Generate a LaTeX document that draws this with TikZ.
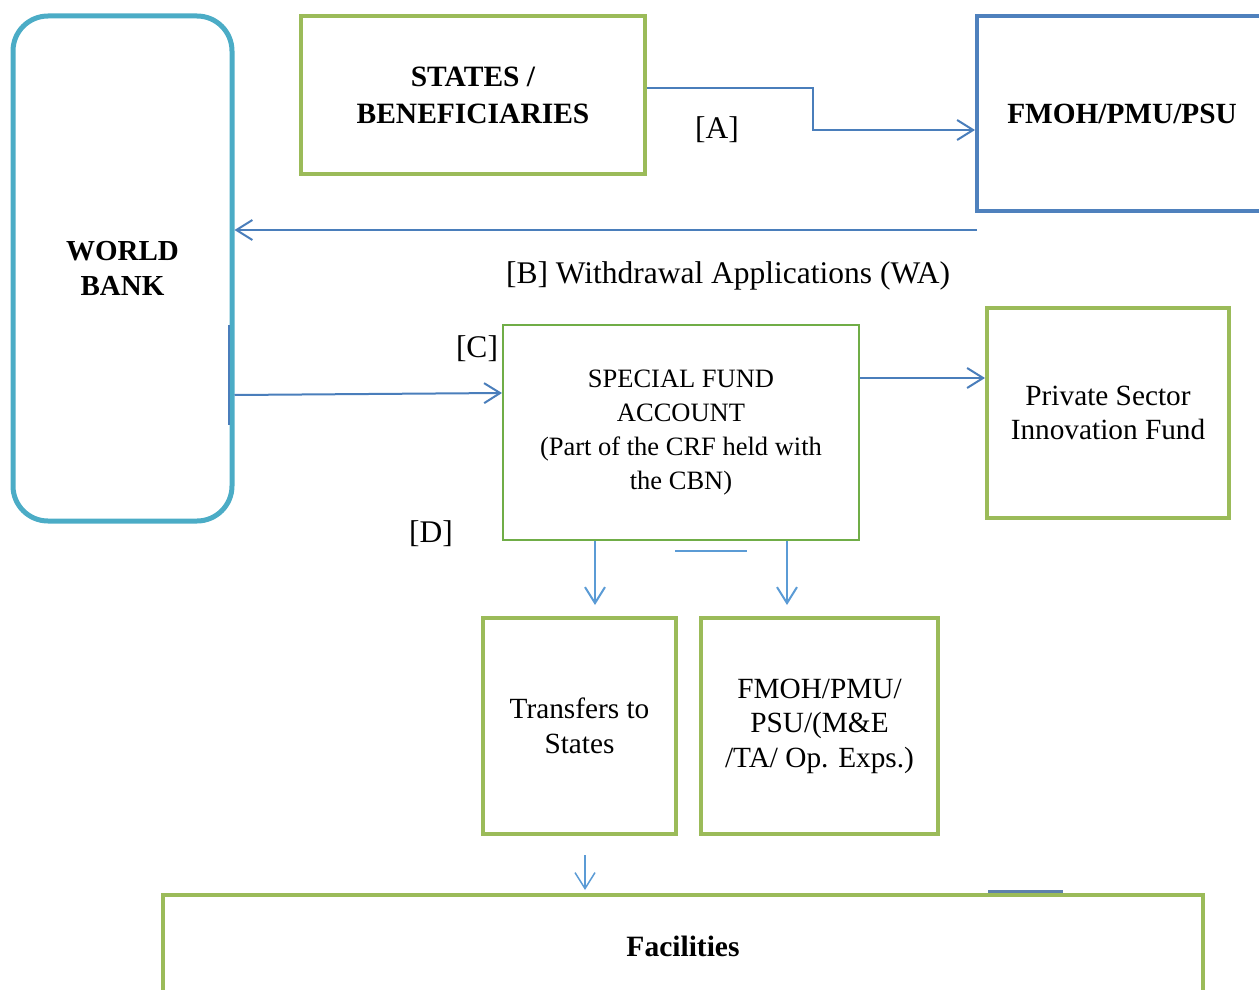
\documentclass[tikz,border=0pt]{standalone}
\usepackage{fontspec}
\setmainfont{Liberation Serif}
\usepackage{tikz}
\usetikzlibrary{shapes,arrows,arrows.meta,positioning,calc}
\definecolor{wbblue}{HTML}{4BACC6}
\definecolor{boxgreen}{HTML}{9BBB59}
\definecolor{sfagreen}{HTML}{70AD47}
\definecolor{fmohblue}{HTML}{4F81BD}
\definecolor{linkblue}{HTML}{4A7EBB}
\definecolor{dropblue}{HTML}{5B9BD5}
\tikzset{box/.style={
    draw=boxgreen,
    rectangle,
    line width=4pt,
    inner sep=0pt,
    align=center,
    font=\fontsize{29.3}{34.5}\selectfont,
    % fill=white,
  }}
\begin{document}
\begin{tikzpicture}[x=1pt,y=-1pt,
        flow/.style={draw=linkblue, line width=2pt,
          -{Straight Barb[length=16pt,width=20pt]}},
        drop/.style={flow, draw=dropblue},
        tag/.style={font=\fontsize{31.5}{34}\selectfont}]

        \clip (0,0) rectangle (1259,990);

        % World Bank
        \node (bank) [box, draw=wbblue, line width=5pt, rounded corners=35pt,
          minimum width=219pt, minimum height=505pt,
          font=\bfseries\fontsize{29}{35}\selectfont] at (122.5,268.5) {WORLD\\BANK};

        % top row
        \node (states) [box, minimum width=344pt, minimum height=158pt,
          font=\bfseries\fontsize{29.5}{37}\selectfont] at (473,95) {STATES /\\BENEFICIARIES};
        \node (fmoh) [box, draw=fmohblue, minimum width=290pt, minimum height=195pt,
          font=\bfseries\fontsize{29.3}{34}\selectfont] at (1122,113.5) {FMOH/PMU/PSU};

        % Special fund account
        \node (sfa) [box, draw=sfagreen, line width=2pt, minimum width=356pt, minimum height=215pt,
          font=\fontsize{26.5}{34}\selectfont] at (681,432.5)
          {SPECIAL FUND\\ACCOUNT\\(Part of the CRF held with\\the CBN)};
        \node (psif) [box, minimum width=242pt, minimum height=210pt] at (1108,413)
          {Private Sector\\Innovation Fund};

        % lower boxes
        \node (transfers) [box, minimum width=193pt, minimum height=216pt] at (579.5,726)
          {Transfers to\\States};
        \node (ops) [box, right=21pt of transfers, minimum width=237pt, minimum height=216pt]
          {FMOH/PMU/\\PSU/(M\&E\\/TA/ Op. Exps.)};
        \node (facilities) [box, minimum width=1040pt, minimum height=102pt,
          font=\bfseries\fontsize{29.5}{34}\selectfont] at (683,946) {Facilities};

        % flows
        \draw [flow] ([yshift=7pt]states.east) -- ++(166,0) |- ([yshift=-16.5pt]fmoh.west);
        \coordinate (wa) at (977,230);
        \draw [flow] (wa) -- (wa -| bank.east);
        \draw [flow] ([yshift=-126.5pt]bank.east) -- ([yshift=39.5pt]sfa.west);
        \draw [flow] ([yshift=54.5pt]sfa.east) -- ([yshift=35pt]psif.west);
        \draw [drop, shorten >=11pt] ([xshift=-86pt]sfa.south) coordinate (d1) -- (d1 |- transfers.north);
        \draw [drop, shorten >=11pt] ([xshift=106pt]sfa.south) coordinate (d2) -- (d2 |- ops.north);
        \draw [drop, line width=1.5pt, shorten <=19pt, shorten >=3pt]
          ([xshift=5.5pt]transfers.south) coordinate (d3) -- (d3 |- facilities.north);

        % stray strokes
        \draw [linkblue, line width=2pt] (229,325) -- (229,425);
        \draw [dropblue, line width=2pt] (675,551) -- (747,551);
        \draw [fmohblue!70!gray, line width=3pt] (988,891) -- (1063,891);

        \node (taga) [tag] at (717,130) {[A]};
        \node (tagb) [tag] at (728,276) {[B] Withdrawal Applications (WA)};
        \node (tagc) [tag] at (477,349) {[C]};
        \node (tagd) [tag] at (431,534) {[D]};

      \end{tikzpicture}
\end{document}
